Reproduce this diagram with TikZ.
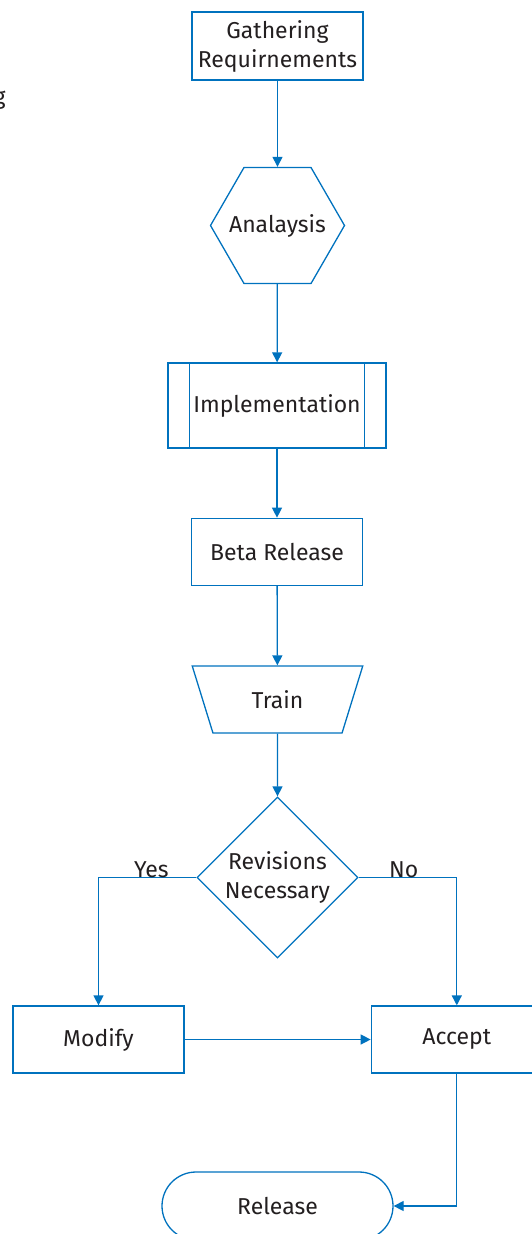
\documentclass[tikz,border=0pt]{standalone}
\usepackage{fontspec}
\setmainfont{Fira Sans}
\usepackage{tikz}
\usetikzlibrary{arrows.meta,positioning,shapes.geometric,shapes.misc}
\definecolor{flowblue}{RGB}{0,114,190}
\definecolor{flowtext}{RGB}{35,31,32}

\begin{document}
\begin{tikzpicture}[x=1pt,y=-1pt,font=\fontsize{23}{29}\selectfont,text=flowtext]
	\tikzstyle{flow} = [draw=flowblue,line width=1.3pt,inner sep=0pt,align=center];
	\tikzstyle{box} = [flow,rectangle,minimum width=171pt,minimum height=67pt];
	\tikzstyle{wire} = [draw=flowblue,line width=1.3pt,-{Triangle[length=10pt,width=10pt]}];
	\useasboundingbox (0,0) rectangle (532,1234);
	\node at (9,104) (side) [anchor=base east] {g};
	\node at (277.5,46) (gather) [box,minimum height=68pt] {Gathering\\Requirnements};
	\node at (277.5,225.5) (analysis) [flow,regular polygon,regular polygon sides=6,minimum size=134pt,label=center:Analaysis] {};
	\node at (277,405.5) (impl) [box,minimum width=218pt,minimum height=85pt] {Implementation};
	\node (beta) [below=69pt of impl,box] {Beta Release};
	\node at (277.5,699.5) (train) [flow,trapezium,shape border rotate=180,trapezium left angle=65.5,trapezium right angle=65.5,trapezium stretches=true,minimum width=171pt,minimum height=67pt] {Train};
	\node at (277.5,877.5) (revise) [flow,diamond,aspect=1,minimum width=161pt,minimum height=161pt] {Revisions\\Necessary};
	\node at (98.5,1039.5) (modify) [box] {Modify};
	\node (accept) [right=186pt of modify,box] {Accept};
	\node at (277.5,1206) (release) [flow,rounded rectangle,minimum width=231pt,minimum height=68pt] {Release};
	% side bars of the implementation box
	\draw[flowblue,line width=1.3pt] ([xshift=22pt]impl.north west) -- ([xshift=22pt]impl.south west);
	\draw[flowblue,line width=1.3pt] ([xshift=-22pt]impl.north east) -- ([xshift=-22pt]impl.south east);
	\draw[wire] (gather) -- (analysis);
	\draw[wire] (analysis) -- (impl);
	\draw[wire] (impl) -- (beta);
	\draw[wire] (beta) -- (train);
	\draw[wire] (train) -- (revise);
	\draw[wire] (revise.west) -| node (yes) [pos=0.23,anchor=base] {Yes} (modify);
	\draw[wire] (revise.east) -| node (no) [pos=0.23,anchor=base] {No} (accept);
	\draw[wire] (modify) -- (accept);
	\draw[wire] (accept) |- (release);
\end{tikzpicture}
\end{document}
